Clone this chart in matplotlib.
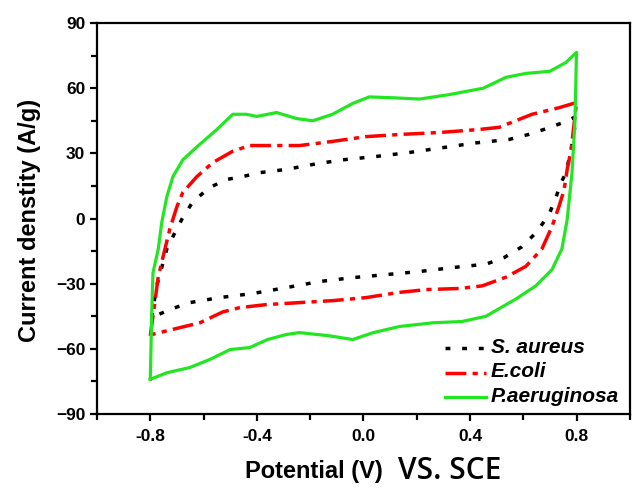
import matplotlib
matplotlib.use('Agg')
import matplotlib.pyplot as plt
import numpy as np

# S. aureus (black dotted): forward scan then reverse scan
sa_up_x = [-0.795, -0.776, -0.757, -0.738, -0.715, -0.678, -0.64, -0.577, -0.513, -0.453,
           -0.397, -0.29, -0.19, -0.08, 0.05, 0.172, 0.296, 0.42, 0.547, 0.62, 0.70, 0.745, 0.80]
sa_up_y = [-45.6, -31, -22.6, -14, -8.3, 0.5, 7.8, 14.3, 18, 19.3,
           21, 22.6, 24.9, 27, 28.6, 30.4, 32.6, 34.8, 36.4, 38.7, 41.9, 44, 47]
sa_dn_x = [0.78, 0.76, 0.742, 0.72, 0.697, 0.652, 0.595, 0.528, 0.46, 0.333,
           0.21, 0.086, -0.04, -0.165, -0.29, -0.415, -0.54, -0.652, -0.727, -0.795]
sa_dn_y = [31.8, 21, 16.5, 8.7, 2, -6, -13, -18, -21, -22.6,
           -24.4, -25.8, -27.2, -29, -31.8, -34.5, -36.4, -38.7, -41.9, -45.6]

# E. coli (red dash-dot)
ec_up_x = [-0.80, -0.79, -0.77, -0.745, -0.727, -0.70, -0.678, -0.625, -0.565, -0.49,
           -0.427, -0.24, -0.116, 0.01, 0.135, 0.285, 0.435, 0.51, 0.633, 0.734, 0.80]
ec_up_y = [-54, -45, -26.7, -14, -5, 5.5, 12, 19.3, 25.8, 31,
           33.6, 33.6, 35.5, 37.7, 38.7, 39.6, 41, 42, 48, 51, 53.4]
ec_dn_x = [0.78, 0.765, 0.753, 0.734, 0.708, 0.67, 0.61, 0.535, 0.446, 0.36,
           0.236, 0.135, 0.01, -0.116, -0.24, -0.363, -0.464, -0.528, -0.614, -0.715, -0.795]
ec_dn_y = [31.8, 22.6, 13, 5.5, -3.7, -14, -22, -27, -31, -32.2,
           -32.7, -34, -36.4, -37.8, -38.7, -39.6, -41, -43, -48, -51, -53.4]

# P. aeruginosa (green solid)
pa_up_x = [-0.80, -0.795, -0.79, -0.77, -0.757, -0.738, -0.715, -0.678, -0.625, -0.55,
           -0.49, -0.44, -0.40, -0.326, -0.25, -0.19, -0.116, -0.04, 0.022, 0.11,
           0.21, 0.32, 0.45, 0.535, 0.61, 0.70, 0.76, 0.80]
pa_up_y = [-74, -46, -25, -14, -1.8, 10, 19.3, 27, 33, 41,
           48, 48, 47, 48.8, 46, 45, 48, 53, 56, 55.6,
           55, 57, 60, 65, 66.8, 67.8, 71.8, 76.5]
pa_dn_x = [0.794, 0.783, 0.765, 0.745, 0.708, 0.647, 0.573, 0.46, 0.37, 0.26,
           0.135, 0.035, -0.04, -0.127, -0.24, -0.29, -0.36, -0.427, -0.50, -0.577,
           -0.652, -0.738, -0.80]
pa_dn_y = [44, 21, -0.5, -14, -23.5, -31, -37, -45, -47.4, -48,
           -49.7, -52.6, -55.7, -54, -52.5, -53.4, -55.7, -59.4, -60.3, -64.9,
           -68.6, -71, -74]

labels = ['S. aureus', 'E.coli', 'P.aeruginosa']
x_ticks = [-0.8, -0.4, 0.0, 0.4, 0.8]
y_ticks = [-90, -60, -30, 0, 30, 60, 90]

plt.rcParams['font.family'] = ['Liberation Sans', 'DejaVu Sans']
plt.rcParams['font.weight'] = 'bold'

fig = plt.figure(figsize=(6.32, 4.9), dpi=100)
ax = fig.add_axes([0.1535, 0.155, 0.843, 0.798])

ax.plot(sa_up_x + sa_dn_x, sa_up_y + sa_dn_y, color='black', lw=2.5,
        linestyle=(0, (1.4, 3.4)), label=labels[0])
ax.plot(ec_up_x + ec_dn_x, ec_up_y + ec_dn_y, color='#ff0000', lw=2.5,
        linestyle=(0, (6, 1.8, 1.5, 1.8)), label=labels[1])
ax.plot(pa_up_x + pa_dn_x, pa_up_y + pa_dn_y, color='#22e622', lw=2.3,
        linestyle='-', label=labels[2])

ax.set_xlim(-1.0, 1.0)
ax.set_ylim(-90, 90)
ax.set_xticks(x_ticks)
ax.set_xticklabels(['-0.8', '-0.4', '0.0', '0.4', '0.8'])
ax.set_xticks([-1.0, -0.6, -0.2, 0.2, 0.6, 1.0], minor=True)
ax.set_yticks(y_ticks)
ax.set_yticks([-75, -45, -15, 15, 45, 75], minor=True)

for s in ax.spines.values():
    s.set_linewidth(1.6)
ax.tick_params(which='major', direction='out', length=5, width=1.6, labelsize=12.5)
ax.tick_params(axis='x', which='major', pad=6)
ax.tick_params(which='minor', direction='out', length=4, width=1.6)
for t in ax.get_xticklabels() + ax.get_yticklabels():
    t.set_fontweight('bold')

ax.set_ylabel('Current denstity (A/g)', fontsize=17, fontweight='bold')
ax.yaxis.set_label_coords(-0.105, 0.495)

fig.text(0.388, 0.024, 'Potential (V)', fontsize=17, fontweight='bold', va='baseline')
fig.text(0.629, 0.022, 'VS. SCE', fontsize=21.5, fontweight='semibold',
         family=['Open Sans', 'DejaVu Sans'], va='baseline')

leg = ax.legend(loc='lower right', frameon=False, handlelength=3.0, handletextpad=0.3,
                labelspacing=0.38, borderaxespad=0.2, bbox_to_anchor=(0.995, 0.0))
for t in leg.get_texts():
    t.set_fontsize(15)
    t.set_fontweight('bold')
    t.set_fontstyle('italic')

fig.savefig('out.png', dpi=100)
